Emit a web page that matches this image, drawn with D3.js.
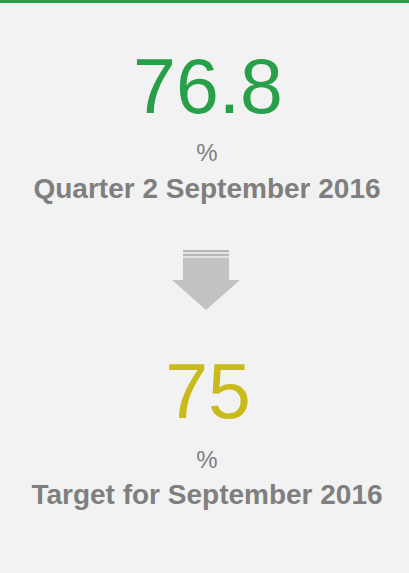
<!DOCTYPE html>
<html><head><meta charset="utf-8">
<script src="https://cdn.jsdelivr.net/npm/d3@7"></script>
<style>html,body{margin:0;padding:0;background:#f2f2f2;}svg{display:block;}</style>
</head><body>
<script>
const values = [76.8, 75];
const units = ["%", "%"];
const labels = ["Quarter 2 September 2016", "Target for September 2016"];
const valueColors = ["#28a04a", "#c8bb1b"];

const W = 409, H = 573;
const svg = d3.select("body").append("svg").attr("width", W).attr("height", H);
svg.append("rect").attr("width", W).attr("height", H).attr("fill", "#f2f2f2");
svg.append("rect").attr("x", 0).attr("y", 0).attr("width", W).attr("height", 3).attr("fill", "#28a04a");

const font = "'Liberation Sans', Arial, sans-serif";
const cx = 207;
const g = svg.selectAll("g.kpi").data(values).join("g").attr("class", "kpi")
  .attr("transform", (d, i) => `translate(${cx},${i === 0 ? 113 : 418})`);

g.append("text").attr("text-anchor", "middle").attr("x", 1)
  .attr("font-family", font).attr("font-size", 77)
  .attr("fill", (d, i) => valueColors[i]).text(d => d);
g.append("text").attr("text-anchor", "middle").attr("y", (d, i) => i === 0 ? 48 : 50)
  .attr("font-family", font).attr("font-size", 24)
  .attr("fill", "#7f7f7f").text((d, i) => units[i]);
g.append("text").attr("text-anchor", "middle").attr("y", (d, i) => i === 0 ? 85 : 86)
  .attr("font-family", font).attr("font-size", 28).attr("font-weight", "bold")
  .attr("fill", "#7f7f7f").text((d, i) => labels[i]);

// arrow
const a = svg.append("g").attr("transform", "translate(206,0)");
a.append("rect").attr("x", -23).attr("y", 250).attr("width", 46).attr("height", 2).attr("fill", "#b4b4b4");
a.append("rect").attr("x", -23).attr("y", 252).attr("width", 46).attr("height", 2).attr("fill", "#e2e2e2");
a.append("rect").attr("x", -23).attr("y", 254).attr("width", 46).attr("height", 2).attr("fill", "#b8b8b8");
a.append("rect").attr("x", -23).attr("y", 256).attr("width", 46).attr("height", 2).attr("fill", "#e2e2e2");
a.append("path").attr("d", "M-23,258 L23,258 L23,280 L34,280 L0,310 L-34,280 L-23,280 Z").attr("fill", "#c2c2c2");
</script>
</body></html>
